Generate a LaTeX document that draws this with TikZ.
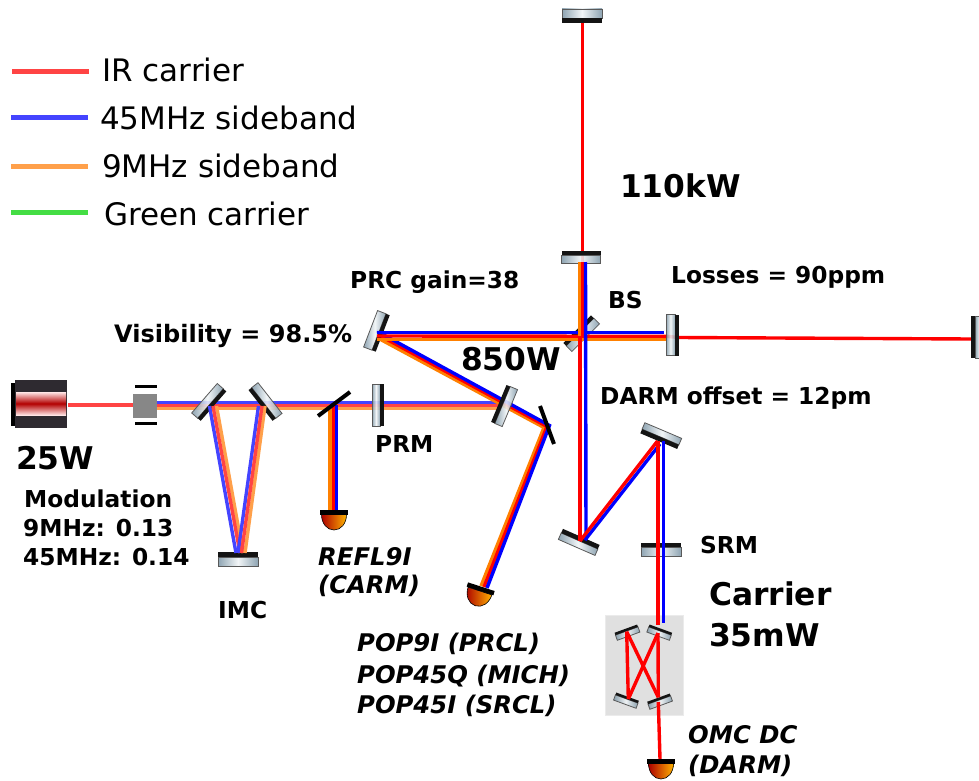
\documentclass[tikz,border=0pt]{standalone}
\usepackage{fontspec}
\setmainfont{DejaVu Sans}
\definecolor{cR}{HTML}{FF0000}
\definecolor{cB}{HTML}{0000FF}
\definecolor{cO}{HTML}{FF8000}
\definecolor{lR}{HTML}{FF4444}
\definecolor{lB}{HTML}{4444FF}
\definecolor{lO}{HTML}{FFA04A}
\definecolor{lG}{HTML}{44DD44}
\definecolor{glassend}{HTML}{7F98A8}
\definecolor{glassmid}{HTML}{F0F4F6}
\definecolor{laserbody}{HTML}{2E2A30}
\tikzset{
  beamR/.style={draw=cR,line width=3.4pt},
  beamB/.style={draw=cB,line width=3.4pt},
  beamO/.style={draw=cO,line width=3.4pt},
  lbeamR/.style={draw=lR,line width=3.4pt},
  lbeamB/.style={draw=lB,line width=3.4pt},
  lbeamO/.style={draw=lO,line width=3.4pt},
  legendline/.style={line width=5pt},
  lab/.style={anchor=base west,inner sep=0pt,font=\fontsize{23.3}{28}\selectfont\bfseries},
  labwide/.style={anchor=base west,inner sep=0pt,font=\fontsize{24}{28}\selectfont\bfseries},
  labit/.style={anchor=base west,inner sep=0pt,font=\fontsize{24.3}{28}\selectfont\bfseries\itshape},
  big/.style={anchor=base west,inner sep=0pt,font=\fontsize{31.3}{36}\selectfont\bfseries},
  leg/.style={anchor=base west,inner sep=0pt,font=\fontsize{31}{36}\selectfont},
  glass/.style={left color=glassend,right color=glassend,middle color=glassmid,fill opacity=0.88,draw=black!65,line width=0.8pt},
  pickoff/.style={draw=black,line width=4pt},
}
% name, x, y, rotation, half length, glass thickness, black thickness
\newcommand{\mirrorbar}[7]{%
  \coordinate (#1) at (#2,#3);
  \begin{scope}[shift={(#2,#3)},rotate=#4]
    \path[glass] (-#5,0) rectangle (#5,#6);
    \fill[black!92] (-#5,-#7) rectangle (#5,0);
  \end{scope}}
% name, x, y, rotation
\newcommand{\photodiode}[4]{%
  \coordinate (#1) at (#2,#3);
  \begin{scope}[shift={(#2,#3)},rotate=#4]
    \path[left color=black!10!red!75!black,right color=orange!60!yellow,draw=black,line width=0.6pt]
      (-12.5,0) .. controls (-12.5,9) and (-7,15.5) .. (0,15.5) .. controls (7,15.5) and (12.5,9) .. (12.5,0) -- cycle;
    \fill[black] (-14,-4.5) rectangle (14,0);
  \end{scope}}
\begin{document}
\begin{tikzpicture}[x=1pt,y=-1pt]
\useasboundingbox (0,0) rectangle (979,781);

% beam end points
\foreach \n/\x/\y in {
  lasR/68/405, eomR/133/405,
  inBa/157/402.2, inBb/500/402.2, inRa/157/405.2, inRb/500/405.2, inOa/157/408.2, inOb/500/408.2,
  iaB/209.5/406, iaR/213/406, iaO/216.5/406, icB/236/553, icR/240/553, icO/243/553,
  ibB/258.5/406, ibR/262/406, ibO/265/406, idB/238/553, idR/241.5/553, idO/245/553,
  rfO/330/405, rfR/333.3/405, rfB/336.6/405, reO/330/510, reR/333.3/510, reB/336.6/510,
  prB/376.5/331, prR/377/334, prO/376/337, hkB/549.5/425.5, hkR/547/426.5, hkO/544/427.5,
  poB/487/588, poR/484/587, poO/481/586,
  hB/377/332.5, hBe/664/332.5, hR/377/336, hRm/666/336.3, hRe/679/337.5, hO/377/339.3, hOe/666/339.3, xe/971/339,
  yt/582.5/23, yb/582.5/262, yc/582.5/336, vOa/579.5/262, vOb/579.5/336, vBa/585.5/262, vBb/586/540,
  vRa/580/336, vRb/580/541,
  drR/580/541, drRe/657.5/441, drB/585/540, drBe/660/444,
  dnR/658/441, dnRe/658/625, dnB/663.5/441, dnBe/663.5/623,
  oa/626.7/631.7, ob/658/633, oc/628.3/699, od/658.3/697.3, oe/658.3/702, of/660/759,
  laR/12/72, lbR/89/72, laB/11/117.7, lbB/88/117.7, laO/11/166, lbO/88/166, laG/11/212, lbG/88/212
}{\coordinate (\n) at (\x,\y);}

% OMC box
\path[fill=black!12,draw=black!8,line width=1pt] (605,615.5) rectangle (683,715.5);

% laser
\fill[black] (11,383) rectangle (15,426);
\fill[laserbody] (15,380) rectangle (67,428);
\path[top color=red!10!white,bottom color=red!10!white,middle color=red!70!black] (16,392) rectangle (66,415);
% modulator
\fill[black!47] (133,394) rectangle (157,418);
\fill[black] (135,385) rectangle (157,388);
\fill[black] (135,422) rectangle (157,425);

% beams that run behind the mirrors
\draw[lbeamB] (inBa) -- (inBb);
\draw[lbeamR] (inRa) -- (inRb);
\draw[lbeamO] (inOa) -- (inOb);
\draw[beamO] (prO) -- (hkO) -- (poO);
\draw[beamR] (prR) -- (hkR) -- (poR);
\draw[beamB] (prB) -- (hkB) -- (poB);
\draw[beamR] (hRm) -- (hRe) -- (xe);
\draw[beamR] (yt) -- (yb);

% mirrors
\mirrorbar{ETMY}{582}{18}{180}{20}{9}{5}
\mirrorbar{ITMY}{581}{255}{0}{19.5}{8}{4.5}
\mirrorbar{ITMX}{675}{335}{-90}{20.5}{9}{4}
\mirrorbar{ETMX}{975}{337}{90}{21}{9}{4}
\mirrorbar{PRthree}{379}{332}{-111}{19.5}{9}{4}
\mirrorbar{BSm}{580}{332}{45}{19.5}{8}{4}
\mirrorbar{IMCa}{210.5}{403.5}{-131}{19.5}{8}{4}
\mirrorbar{IMCb}{263.7}{403}{128}{19.5}{8}{4}
\mirrorbar{IMCc}{238}{557}{0}{20}{9}{5}
\mirrorbar{PRM}{380}{405}{-90}{21}{8}{4}
\mirrorbar{PRtwo}{502.5}{405}{67.4}{20}{8}{4}
\mirrorbar{SRtwo}{579.5}{541}{-23.6}{20}{7}{4.5}
\mirrorbar{SRthree}{660.5}{437}{157}{20}{7}{4.5}
\mirrorbar{SRM}{661}{547}{0}{20}{9}{4.5}
\mirrorbar{OMCa}{626.7}{631}{20}{12}{5.5}{2.5}
\mirrorbar{OMCb}{660}{631}{-20}{12}{5.5}{2.5}
\mirrorbar{OMCc}{626.7}{699}{-20}{12}{5.5}{2.5}
\mirrorbar{OMCd}{659.3}{700}{20}{12}{5.5}{2.5}

% diodes
\photodiode{PDrefl}{334}{514.5}{0}
\photodiode{PDpop}{480}{591}{-18}
\photodiode{PDomc}{661}{763.5}{0}

% input beams
\draw[lbeamR] (lasR) -- (eomR);
\draw[lbeamB] (iaB) -- (icB);
\draw[lbeamO] (iaO) -- (icO);
\draw[lbeamR] (iaR) -- (icR);
\draw[lbeamB] (ibB) -- (idB);
\draw[lbeamO] (ibO) -- (idO);
\draw[lbeamR] (ibR) -- (idR);
% REFL
\draw[beamO] (rfO) -- (reO);
\draw[beamR] (rfR) -- (reR);
\draw[beamB] (rfB) -- (reB);
% arms
\draw[beamO] (hO) -- (hOe);
\draw[beamR] (hR) -- (hRm);
\draw[beamB] (hB) -- (hBe);
\draw[beamO] (vOa) -- (vOb);
\draw[beamR] (yb) -- (yc);
\draw[beamB] (vBa) -- (vBb);
\draw[beamR] (vRa) -- (vRb);
% signal recycling
\draw[beamB] (drB) -- (drBe);
\draw[beamR] (drR) -- (drRe);
\draw[beamB] (dnB) -- (dnBe);
\draw[beamR] (dnR) -- (dnRe);
% OMC
\draw[beamR] (oa) -- (oc);
\draw[beamR] (ob) -- (od);
\draw[beamR] (oa) -- (od);
\draw[beamR] (ob) -- (oc);
\draw[beamR] (oe) -- (of);

% pick-off mirrors
\coordinate (pa) at (318,416); \coordinate (pb) at (350,392);
\coordinate (pc) at (540,406); \coordinate (pd) at (554,444);
\draw[pickoff] (pa) -- (pb);
\draw[pickoff] (pc) -- (pd);

% legend
\draw[legendline,lR] (laR) -- (lbR);
\draw[legendline,lB] (laB) -- (lbB);
\draw[legendline,lO] (laO) -- (lbO);
\draw[legendline,lG] (laG) -- (lbG);
\node[leg] (t1) at (102,82) {IR carrier};
\node[leg] (t2) at (100,129) {45MHz sideband};
\node[leg] (t3) at (102,177) {9MHz sideband};
\node[leg] (t4) at (104,225) {Green carrier};

% labels
\node[big] (p1) at (620,197) {110kW};
\node[big] (p2) at (461,370) {850W};
\node[big] (p3) at (16,469) {25W};
\node[big] (p4) at (709,605) {Carrier};
\node[big] (p5) at (709,646) {35mW};
\node[lab] (l1) at (350,288) {PRC gain=38};
\node[lab] (l2) at (671,283) {Losses = 90ppm};
\node[lab] (l3) at (608,308) {BS};
\node[labwide] (l4) at (114,342) {Visibility = 98.5\%};
\node[lab] (l5) at (600,404) {DARM offset = 12pm};
\node[lab] (l6) at (375,452) {PRM};
\node[lab] (l7) at (24,507) {Modulation};
\node[lab] (l8) at (23,536) {9MHz: 0.13};
\node[lab] (l9) at (23,565.5) {45MHz: 0.14};
\node[lab] (l10) at (218,618) {IMC};
\node[lab] (l11) at (700,553) {SRM};
\node[labit] (i1) at (318,565) {REFL9I};
\node[labit] (i2) at (318,593) {(CARM)};
\node[labit] (i3) at (357,651) {POP9I (PRCL)};
\node[labit] (i4) at (357,683) {POP45Q (MICH)};
\node[labit] (i5) at (357,713) {POP45I (SRCL)};
\node[labit] (i6) at (688,743) {OMC DC};
\node[labit] (i7) at (688,773) {(DARM)};
\end{tikzpicture}
\end{document}
